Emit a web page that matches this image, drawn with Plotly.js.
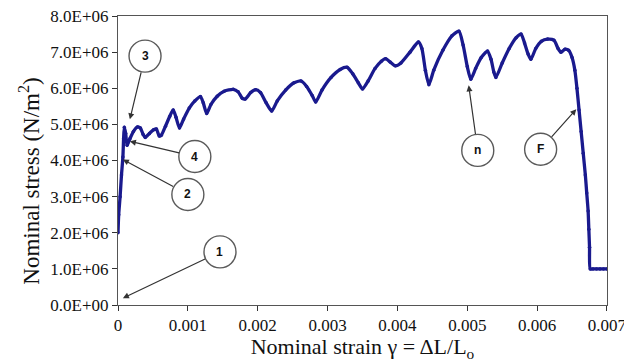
<!DOCTYPE html>
<html>
<head>
<meta charset="utf-8">
<script src="https://cdn.plot.ly/plotly-3.0.1.min.js"></script>
<style>html,body{margin:0;padding:0;background:#fff;}#chart{width:624px;height:362px;}</style>
</head>
<body>
<div id="chart"></div>
<script>
// Nominal strain (dimensionless) and nominal stress (N/m^2, in units of 1e6)
const strain = [
  0, 0.00001, 0.00003, 0.00005, 0.00007, 0.00008, 0.00009, 0.00011, 0.00013, 0.00017,
  0.00022, 0.00028, 0.00032, 0.00036, 0.00039, 0.00045, 0.00051, 0.00055, 0.00059, 0.00062,
  0.00068, 0.00074, 0.00079, 0.00083, 0.00088, 0.00094, 0.00102, 0.00110, 0.00118, 0.00122,
  0.00127, 0.00133, 0.00142, 0.00152, 0.00165, 0.00172, 0.00178, 0.00182, 0.00190, 0.00197,
  0.00204, 0.00212, 0.00220, 0.00228, 0.00240, 0.00252, 0.00262, 0.00270, 0.00278, 0.00283,
  0.00292, 0.00305, 0.00318, 0.00328, 0.00336, 0.00344, 0.00350, 0.00358, 0.00368, 0.00377,
  0.00383, 0.00390, 0.00397, 0.00405, 0.00418, 0.00430, 0.00435, 0.00440, 0.00445, 0.00452,
  0.00465, 0.00478, 0.00488, 0.00494, 0.00500, 0.00505, 0.00512, 0.00520, 0.00529, 0.00534,
  0.00538, 0.00541, 0.00550, 0.00560, 0.00570, 0.00577, 0.00582, 0.00587, 0.00591, 0.00598,
  0.00606, 0.00615, 0.00624, 0.00630, 0.00634, 0.00640, 0.00645, 0.00650, 0.00654, 0.00657,
  0.00660, 0.00663, 0.00666, 0.00669, 0.00671, 0.00673, 0.00674, 0.00675, 0.00676, 0.00680,
  0.00685, 0.00690, 0.00695, 0.00700
];
const stressMPa = [
  2.0, 2.5, 3.0, 3.6, 4.1, 4.6, 4.92, 4.75, 4.42, 4.6,
  4.8, 4.93, 4.9, 4.72, 4.64, 4.75, 4.85, 4.87, 4.68, 4.7,
  4.95, 5.22, 5.4, 5.2, 4.9, 5.15, 5.45, 5.65, 5.77, 5.6,
  5.3, 5.55, 5.78, 5.92, 5.97, 5.9, 5.72, 5.7, 5.88, 5.96,
  5.88, 5.6, 5.37, 5.65, 5.95, 6.15, 6.2, 6.05, 5.8, 5.62,
  5.95, 6.3, 6.52, 6.58, 6.4, 6.15, 5.98, 6.2, 6.55, 6.75,
  6.82, 6.72, 6.62, 6.7, 7.0, 7.28, 7.1, 6.5, 6.1, 6.5,
  7.05, 7.45, 7.58, 7.2, 6.6, 6.25, 6.55, 6.85, 7.03, 6.8,
  6.45, 6.3, 6.7, 7.1, 7.4, 7.5, 7.25, 6.95, 6.8, 7.1,
  7.3, 7.36, 7.33, 7.1, 7.0, 7.08, 7.05, 6.85, 6.5, 6.0,
  5.4, 4.8, 4.2, 3.6, 3.1, 2.6, 2.1, 1.6, 1.0, 1.0,
  1.0, 1.0, 1.0, 1.0
];
const stress = stressMPa.map(v => v * 1e6);

const yTickVals = [0, 1e6, 2e6, 3e6, 4e6, 5e6, 6e6, 7e6, 8e6];
const yTickText = ["0.0E+00","1.0E+06","2.0E+06","3.0E+06","4.0E+06","5.0E+06","6.0E+06","7.0E+06","8.0E+06"];
const xTickVals = [0, 0.001, 0.002, 0.003, 0.004, 0.005, 0.006, 0.007];
const xTickText = ["0","0.001","0.002","0.003","0.004","0.005","0.006","0.007"];

// Callout labels, their circle centres and where their arrows point
const calloutLabels = ["3", "4", "2", "1", "n", "F"];
const calloutCenterX = [0.000387, 0.00110, 0.00100, 0.00146, 0.00515, 0.00605];
const calloutCenterY = [6.89e6, 4.11e6, 3.06e6, 1.47e6, 4.28e6, 4.31e6];
const arrowTipX = [0.00017, 0.00017, 0.00007, 0.00007, 0.00502, 0.00656];
const arrowTipY = [5.14e6, 4.53e6, 4.03e6, 0.19e6, 6.08e6, 5.42e6];
const arrowStartGap = [8, 11, 11, 11, 8, 9];

const lineColor = '#1a1a8e';
const serif = '"Liberation Serif", "Times New Roman", serif';

const shapes = calloutLabels.map((_, i) => ({
  type: 'circle', xref: 'x', yref: 'y',
  xsizemode: 'pixel', ysizemode: 'pixel',
  xanchor: calloutCenterX[i], yanchor: calloutCenterY[i],
  x0: -16, x1: 16, y0: -16, y1: 16,
  line: {color: '#5a5a5a', width: 1.4},
  fillcolor: 'rgba(255,255,255,1)',
  layer: 'above'
}));

const annotations = calloutLabels.map((lab, i) => ({
  x: arrowTipX[i], y: arrowTipY[i], xref: 'x', yref: 'y',
  ax: calloutCenterX[i], ay: calloutCenterY[i], axref: 'x', ayref: 'y',
  text: '<b>' + lab + '</b>', showarrow: true,
  arrowhead: 2, arrowsize: 1, arrowwidth: 1.2, arrowcolor: '#333',
  standoff: 0, startstandoff: arrowStartGap[i],
  font: {family: '"Liberation Sans", Arial, sans-serif', size: 12, color: '#111'}
}));
annotations.push({
  xref: 'paper', yref: 'paper', x: -0.18, y: 0.43, xanchor: 'center', yanchor: 'middle',
  text: 'Nominal stress (N/m<sup>2</sup>)', textangle: -90, showarrow: false,
  font: {family: serif, size: 23, color: '#111'}
});

const trace = {
  x: strain, y: stress, type: 'scatter', mode: 'lines+markers',
  line: {color: lineColor, width: 3.3, shape: 'spline', smoothing: 0.6},
  marker: {color: lineColor, size: 3.5},
  hoverinfo: 'skip'
};

const layout = {
  width: 624, height: 362,
  margin: {l: 118, r: 17, t: 16, b: 57},
  paper_bgcolor: '#fff', plot_bgcolor: '#fff',
  showlegend: false,
  font: {family: serif, color: '#111'},
  xaxis: {
    range: [0, 0.0070001], tickvals: xTickVals, ticktext: xTickText,
    ticks: 'outside', ticklen: 5, tickcolor: '#333', tickwidth: 1,
    ticklabeloverflow: 'allow',
    showgrid: false, zeroline: false, showline: true, linecolor: '#555', linewidth: 1, mirror: true,
    tickfont: {family: serif, size: 17, color: '#111'},
    title: {text: 'Nominal strain γ = ΔL/L<sub>o</sub>', font: {family: serif, size: 22, color: '#111'}, standoff: 2}
  },
  yaxis: {
    range: [0, 8e6], tickvals: yTickVals, ticktext: yTickText,
    ticks: 'outside', ticklen: 5, tickcolor: '#333', tickwidth: 1,
    showgrid: false, zeroline: false, showline: true, linecolor: '#555', linewidth: 1, mirror: true,
    tickfont: {family: serif, size: 17, color: '#111'}
  },
  shapes: shapes,
  annotations: annotations
};

Plotly.newPlot('chart', [trace], layout, {displayModeBar: false, staticPlot: true});
</script>
</body>
</html>
